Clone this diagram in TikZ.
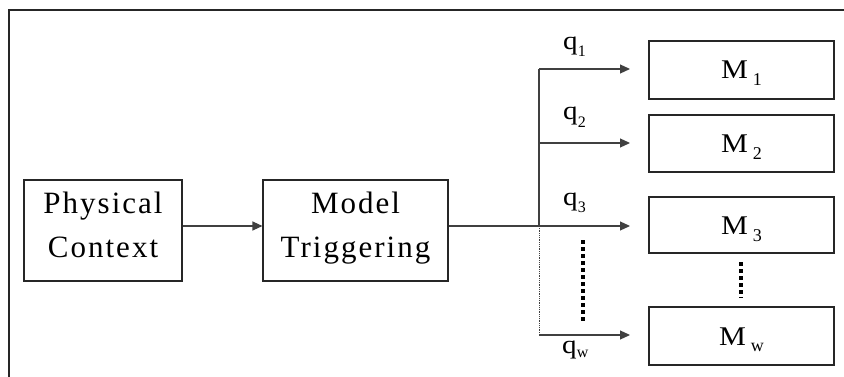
\documentclass[tikz,border=0pt]{standalone}
\usepackage{fontspec}
\setmainfont{Liberation Serif}
\newfontfamily\spacedfont[LetterSpace=6.5]{Liberation Serif}
\newfontfamily\widefont[FakeStretch=1.12]{Liberation Serif}
\usetikzlibrary{arrows.meta}
\newcommand{\msub}[2]{\raisebox{-#1}{\rmfamily\fontsize{18}{18}\selectfont #2}}
\newcommand{\qsub}[2]{\raisebox{-#1}{\rmfamily\fontsize{16}{16}\selectfont #2}}
\begin{document}
\begin{tikzpicture}[x=1pt,y=-1pt,
  box/.style={draw=black!85, line width=1.1pt, rectangle, inner sep=0pt},
  bigbox/.style={box, align=center, font=\spacedfont\fontsize{31}{44}\selectfont, text height=55pt, text depth=0pt, minimum height=101pt},
  mbox/.style={box, minimum width=185pt, font=\widefont\fontsize{27}{30}\selectfont, text height=18pt, text depth=0pt},
  conn/.style={draw=black!75, line width=1.1pt},
  arr/.style={conn, -{Triangle[length=10pt,width=9pt]}},
  lbl/.style={inner sep=0pt, anchor=base west, font=\widefont\fontsize{26}{30}\selectfont},
  thickdots/.style={line width=3.5pt, dash pattern=on 4pt off 3pt}
]
\useasboundingbox (0,0) rectangle (844,377);
\draw[line width=2pt, black!85] (9,377) -- (9,10) -- (844,10);

\node[bigbox, minimum width=158pt] (phys) at (103,230.5) {Physical\\Context};
\node[bigbox, minimum width=185pt] (trig) at (355.5,230.5) {Model\\Triggering};

\node[mbox, minimum height=58pt] (M1) at (741.5,70) {M\hspace{5pt}\msub{7pt}{1}};
\node[mbox, minimum height=57pt] (M2) at (741.5,143.5) {M\hspace{5pt}\msub{7pt}{2}};
\node[mbox, minimum height=56pt] (M3) at (741.5,225) {M\hspace{5pt}\msub{7pt}{3}};
\node[mbox, minimum height=58pt] (Mw) at (741.5,336) {M\hspace{5pt}\msub{6pt}{w}};

\coordinate (j1) at (539,69);
\coordinate (j2) at (539,143);
\coordinate (j3) at (539,226);
\coordinate (jw) at (539,335);
\coordinate (tipx) at (630,0);

\draw[arr] (phys.east |- j3) -- (trig.west |- j3);
\draw[arr] (trig.east |- j3) -- (j3 -| tipx);
\draw[conn] (j3) -- (j1);
\draw[arr] (j1) -- (j1 -| tipx);
\draw[arr] (j2) -- (j2 -| tipx);
\draw[conn, line width=0.8pt, densely dotted] (j3) -- (jw);
\draw[arr] (jw) -- (jw -| tipx);

\coordinate (d1a) at (583,240);
\coordinate (d1b) at (583,322);
\draw[thickdots] (d1a) -- (d1b);
\coordinate (d2a) at (741,262);
\coordinate (d2b) at (741,298);
\draw[thickdots] (d2a) -- (d2b);

\node[lbl] (lq1) at (563,50) {q\qsub{7pt}{1}};
\node[lbl] (lq2) at (563,120) {q\qsub{8pt}{2}};
\node[lbl] (lq3) at (563,205) {q\qsub{7pt}{3}};
\node[lbl] (lqw) at (562,353) {q\qsub{4pt}{w}};
\end{tikzpicture}
\end{document}
